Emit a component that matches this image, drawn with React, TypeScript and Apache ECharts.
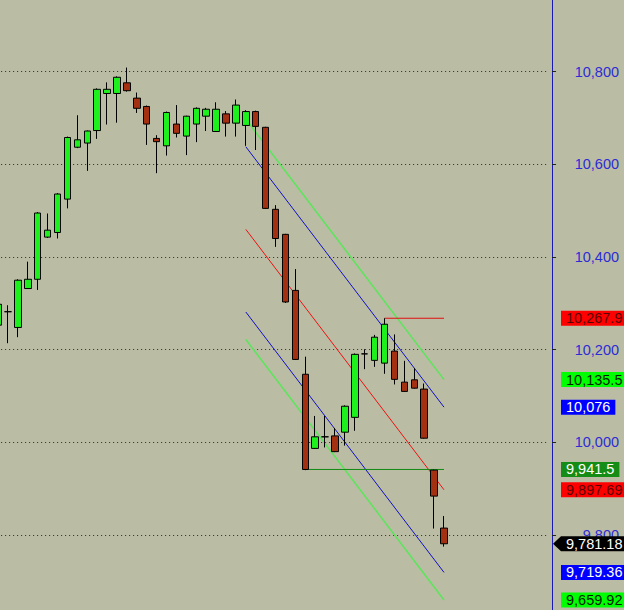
import { useEffect, useRef } from "react";
import * as echarts from "echarts";

// Daily bars: open / close / low / high
const opens = [
  10253, 10282, 10248, 10332, 10352, 10443, 10453, 10525, 10637, 10646,
  10673, 10753, 10753, 10776, 10743, 10725, 10656, 10640, 10687, 10661,
  10687, 10704, 10671, 10709, 10689, 10684, 10714, 10680, 10503, 10449,
  10328, 10147, 9987, 10012, 10014, 10022, 10054, 10191, 10177, 10171,
  10197, 10130, 10135, 10115, 9940, 9815,
];
const closes = [
  10298, 10282, 10350, 10352, 10495, 10458, 10536, 10658, 10653, 10672,
  10762, 10762, 10788, 10759, 10721, 10687, 10649, 10712, 10667, 10704,
  10721, 10719, 10719, 10689, 10728, 10714, 10682, 10505, 10440, 10303,
  10179, 9941.5, 10012, 10012, 9980, 10078, 10190, 10191, 10227, 10255,
  10136, 10110, 10117, 10009, 9884, 9781.18,
];
const lows = [
  10245, 10214, 10227, 10331, 10329, 10441, 10440, 10505, 10635, 10586,
  10655, 10686, 10690, 10757, 10711, 10642, 10581, 10619, 10658, 10620,
  10648, 10672, 10670, 10660, 10660, 10640, 10631, 10504, 10422, 10301,
  10178, 9940, 9986, 9989, 9979, 9993, 10025, 10158, 10163, 10148,
  10125, 10109, 10116, 10008, 9814, 9775,
];
const highs = [
  10302, 10296, 10352, 10390, 10497, 10494, 10538, 10660, 10706, 10673,
  10764, 10777, 10790, 10809, 10755, 10727, 10663, 10714, 10728, 10705,
  10723, 10722, 10734, 10715, 10740, 10717, 10716, 10681, 10512, 10450,
  10374, 10185, 10057, 10057, 10031, 10080, 10192, 10201, 10232, 10267.9,
  10233, 10176, 10160, 10127, 9941, 9841,
];

// Slots on the time axis (bars plus empty space on the right)
const slots = [
  "1", "2", "3", "4", "5", "6", "7", "8", "9", "10",
  "11", "12", "13", "14", "15", "16", "17", "18", "19", "20",
  "21", "22", "23", "24", "25", "26", "27", "28", "29", "30",
  "31", "32", "33", "34", "35", "36", "37", "38", "39", "40",
  "41", "42", "43", "44", "45", "46", "47", "48", "49", "50",
  "51", "52", "53", "54", "55", "56",
];

// Regression channel, drawn from bar 25 to bar 45: [start, end]
const channelFrom = 25;
const channelTo = 45;
const upperGreen = [10697.5, 10135.5];
const upperBlue = [10638, 10076];
const midRed = [10459.7, 9897.69];
const lowerBlue = [10281.4, 9719.36];
const lowerGreen = [10221.9, 9659.92];

// Horizontal levels: [value, first bar]
const supportLevel = [9941.5, 31];
const resistanceLevel = [10267.9, 39];

// Y axis
const yMin = 9600;
const yMax = 11000;
const yStep = 200;

const FONT = "'Liberation Sans', Arial, Helvetica, sans-serif";

const fmt = (v: number) =>
  v.toLocaleString("en-US", { maximumFractionDigits: 2 });

export default function App() {
  const ref = useRef<HTMLDivElement>(null);

  useEffect(() => {
    document.body.style.margin = "0";
    const el = ref.current!;
    const chart = echarts.init(el, undefined, { renderer: "svg" });

    const candles = opens.map((o, i) => [o, closes[i], lows[i], highs[i]]);

    const seg = (
      name: string,
      from: number,
      to: number,
      a: number,
      b: number,
      color: string,
      width: number
    ) => ({
      name,
      type: "line",
      data: [
        [from, a],
        [to, b],
      ],
      symbol: "none",
      silent: true,
      z: 1,
      lineStyle: { color, width },
    });

    chart.setOption({
      animation: false,
      backgroundColor: "#bbbca4",
      grid: {
        left: -6.86,
        top: -20.96,
        width: 554.9,
        height: 648.66,
        containLabel: false,
        outerBoundsMode: "none",
      },
      xAxis: {
        type: "category",
        data: slots,
        boundaryGap: true,
        show: false,
      },
      yAxis: {
        type: "value",
        position: "right",
        min: yMin,
        max: yMax,
        interval: yStep,
        offset: 4,
        axisLine: { show: true, lineStyle: { color: "#1818b8", width: 1 } },
        axisTick: { show: true, length: 4, lineStyle: { color: "#222" } },
        axisLabel: {
          color: "#2c2cd4",
          fontSize: 14.5,
          fontFamily: FONT,
          align: "right",
          margin: 67,
          showMinLabel: false,
          showMaxLabel: false,
          formatter: (v: number) => fmt(v),
        },
        splitLine: {
          show: true,
          lineStyle: { color: "#2a2a2a", type: [1, 3], width: 1 },
        },
      },
      series: [
        seg("upperGreen", channelFrom, channelTo, upperGreen[0], upperGreen[1], "#5ae65a", 1.5),
        seg("upperBlue", channelFrom, channelTo, upperBlue[0], upperBlue[1], "#1010c8", 1),
        seg("midRed", channelFrom, channelTo, midRed[0], midRed[1], "#f01010", 1),
        seg("lowerBlue", channelFrom, channelTo, lowerBlue[0], lowerBlue[1], "#1010c8", 1),
        seg("lowerGreen", channelFrom, channelTo, lowerGreen[0], lowerGreen[1], "#5ae65a", 1.5),
        seg("support", supportLevel[1], channelTo, supportLevel[0], supportLevel[0], "#138a13", 1),
        seg("resistance", resistanceLevel[1], channelTo, resistanceLevel[0], resistanceLevel[0], "#e01010", 1),
        {
          name: "price",
          type: "candlestick",
          data: candles,
          barWidth: 7,
          z: 3,
          itemStyle: {
            color: "#1ef01e",
            color0: "#a33010",
            borderColor: "#000",
            borderColor0: "#000",
            borderColorDoji: "#000",
            borderWidth: 1,
          },
        },
      ],
    });

    // Price tags on the right-hand scale
    const last = closes.length - 1;
    const tags = [
      { v: resistanceLevel[0], bg: "#ff0000", fg: "#5a0000" },
      { v: upperGreen[1], bg: "#00ff00", fg: "#002000" },
      { v: upperBlue[1], bg: "#0000ff", fg: "#ffffff" },
      { v: supportLevel[0], bg: "#158c15", fg: "#ffffff" },
      { v: midRed[1], bg: "#ff0000", fg: "#5a0000" },
      { v: lowerBlue[1], bg: "#0000ff", fg: "#ffffff" },
      { v: lowerGreen[1], bg: "#00ff00", fg: "#002000" },
    ];
    const graphic: any[] = tags.map((t) => {
      const py = chart.convertToPixel({ yAxisIndex: 0 }, t.v) as number;
      return {
        type: "text",
        x: 561,
        y: py,
        z: 100,
        style: {
          text: fmt(t.v),
          fill: t.fg,
          backgroundColor: t.bg,
          padding: [0, 5, 0, 5],
          lineHeight: 15,
          fontSize: 14.5,
          fontFamily: FONT,
          align: "left",
          verticalAlign: "middle",
        },
      };
    });
    const lastY = chart.convertToPixel({ yAxisIndex: 0 }, closes[last]) as number;
    graphic.push({
      type: "polygon",
      z: 100,
      shape: {
        points: [
          [553, lastY],
          [561, lastY - 7.5],
          [626, lastY - 7.5],
          [626, lastY + 7.5],
          [561, lastY + 7.5],
        ],
      },
      style: { fill: "#000" },
    });
    graphic.push({
      type: "text",
      x: 566,
      y: lastY,
      z: 101,
      style: {
        text: fmt(closes[last]),
        fill: "#fff",
        fontSize: 14.5,
        fontFamily: FONT,
        align: "left",
        verticalAlign: "middle",
      },
    });
    chart.setOption({ graphic });

    return () => chart.dispose();
  }, []);

  return <div ref={ref} style={{ width: 624, height: 610 }} />;
}
